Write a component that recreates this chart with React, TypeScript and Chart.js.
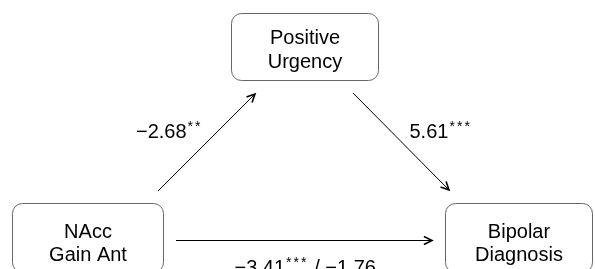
import React, { useEffect, useRef } from "react";
import { Chart, registerables } from "chart.js";

Chart.register(...registerables);

// ---- data ----
const nodeNames: string[][] = [
  ["NAcc", "Gain Ant"],
  ["Positive", "Urgency"],
  ["Bipolar", "Diagnosis"],
];
const pathCoefs: string[] = ["\u22122.68", "5.61", "\u22123.41"];
const pathStars: string[] = ["**", "***", "***"];
const directSuffix: string[] = ["", "", " / \u22121.76"];

// ---- layout (chart units == pixels) ----
const boxRects = [
  { x0: 12, y0: 203, x1: 164, y1: 273 },
  { x0: 231, y0: 13, x1: 379, y1: 81 },
  { x0: 445, y0: 203, x1: 593, y1: 273 },
];
const textCenters = [
  { x: 88, b: [237.7, 260.5] },
  { x: 305, b: [44, 68] },
  { x: 519, b: [237.7, 260.5] },
];
const arrowLines = [
  { fx: 158, fy: 191, tx: 255, ty: 94 },
  { fx: 353, fy: 93, tx: 449, ty: 190 },
  { fx: 176, fy: 240.5, tx: 432, ty: 240.5 },
];
const labelAnchors = [
  { x: 136, b: 137.7 },
  { x: 409.5, b: 137.7 },
  { x: 234.5, b: 274 },
];

const FONT = '"Liberation Sans", Arial, Helvetica, sans-serif';

const diagramPlugin = {
  id: "diagram",
  afterDraw(chart: any) {
    const ctx: CanvasRenderingContext2D = chart.ctx;
    const xs = chart.scales.x;
    const ys = chart.scales.y;
    const px = (v: number) => xs.getPixelForValue(v);
    const py = (v: number) => ys.getPixelForValue(v);
    ctx.save();
    // boxes
    boxRects.forEach((r) => {
      const x0 = px(r.x0) + 0.5, y0 = py(r.y0) + 0.5, x1 = px(r.x1) - 0.5, y1 = py(r.y1) - 0.5;
      const rad = 10;
      ctx.beginPath();
      ctx.moveTo(x0 + rad, y0);
      ctx.lineTo(x1 - rad, y0);
      ctx.arcTo(x1, y0, x1, y0 + rad, rad);
      ctx.lineTo(x1, y1 - rad);
      ctx.arcTo(x1, y1, x1 - rad, y1, rad);
      ctx.lineTo(x0 + rad, y1);
      ctx.arcTo(x0, y1, x0, y1 - rad, rad);
      ctx.lineTo(x0, y0 + rad);
      ctx.arcTo(x0, y0, x0 + rad, y0, rad);
      ctx.closePath();
      ctx.fillStyle = "#ffffff";
      ctx.fill();
      ctx.strokeStyle = "#666666";
      ctx.lineWidth = 1;
      ctx.stroke();
    });
    // node text
    ctx.fillStyle = "#000000";
    ctx.font = `20px ${FONT}`;
    ctx.textAlign = "center";
    ctx.textBaseline = "alphabetic";
    nodeNames.forEach((lines, i) => {
      const c = textCenters[i];
      lines.forEach((t, j) => ctx.fillText(t, px(c.x), py(c.b[j])));
    });
    // arrows
    ctx.strokeStyle = "#000000";
    arrowLines.forEach((a) => {
      const fx = px(a.fx), fy = py(a.fy), tx = px(a.tx), ty = py(a.ty);
      ctx.lineWidth = 1;
      ctx.beginPath();
      ctx.moveTo(fx, fy);
      ctx.lineTo(tx, ty);
      ctx.stroke();
      const ang = Math.atan2(ty - fy, tx - fx);
      const len = 9, spread = 0.45;
      ctx.lineWidth = 1.6;
      ctx.beginPath();
      ctx.moveTo(tx - len * Math.cos(ang - spread), ty - len * Math.sin(ang - spread));
      ctx.lineTo(tx, ty);
      ctx.lineTo(tx - len * Math.cos(ang + spread), ty - len * Math.sin(ang + spread));
      ctx.stroke();
    });
    // coefficient labels
    ctx.textAlign = "left";
    pathCoefs.forEach((coef, i) => {
      const a = labelAnchors[i];
      let x = px(a.x);
      const b = py(a.b);
      ctx.font = `20px ${FONT}`;
      ctx.fillText(coef, x, b);
      x += ctx.measureText(coef).width + 1;
      ctx.font = `14px ${FONT}`;
      for (const s of pathStars[i]) {
        ctx.fillText(s, x, b - 7);
        x += 7.5;
      }
      if (directSuffix[i]) {
        ctx.font = `20px ${FONT}`;
        ctx.fillText(directSuffix[i], x, b);
      }
    });
    ctx.restore();
  },
};

export default function App() {
  const ref = useRef<HTMLCanvasElement | null>(null);
  useEffect(() => {
    document.body.style.margin = "0";
    if (!ref.current) return;
    const chart = new Chart(ref.current, {
      type: "scatter",
      data: {
        datasets: [
          {
            data: textCenters.map((c) => ({ x: c.x, y: c.b[0] })),
            pointRadius: 0,
            showLine: false,
          },
        ],
      },
      options: {
        responsive: false,
        animation: false,
        events: [],
        layout: { padding: 0 },
        plugins: { legend: { display: false }, tooltip: { enabled: false } },
        scales: {
          x: { type: "linear", min: 0, max: 595, display: false },
          y: { type: "linear", min: 0, max: 269, reverse: true, display: false },
        },
      },
      plugins: [diagramPlugin],
    });
    return () => chart.destroy();
  }, []);
  return (
    <div style={{ position: "absolute", left: 0, top: 0, width: 595, height: 269, background: "#fff" }}>
      <canvas ref={ref} width={595} height={269} style={{ display: "block" }} />
    </div>
  );
}
